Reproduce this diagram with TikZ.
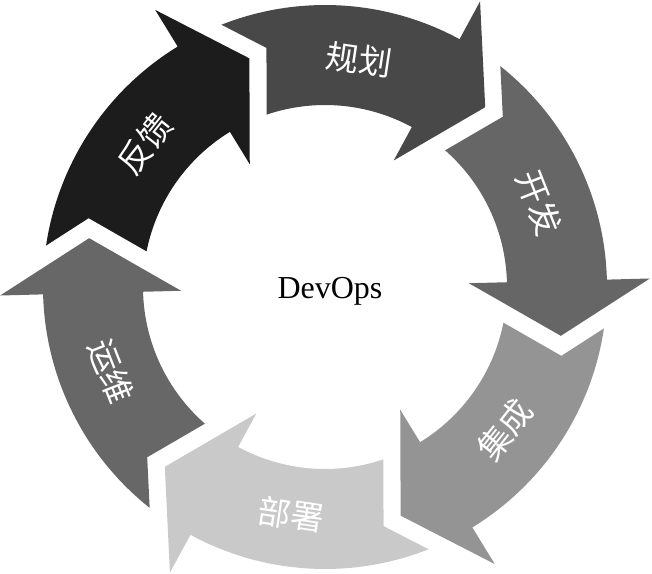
\documentclass[tikz,border=0pt]{standalone}
\usepackage{fontspec}
\setmainfont{Liberation Serif}
\newfontfamily\cjk{Noto Sans CJK SC}
\usetikzlibrary{positioning}
\definecolor{feedgray}{HTML}{1C1C1C}
\definecolor{plangray}{HTML}{484848}
\definecolor{devgray}{HTML}{666666}
\definecolor{cigray}{HTML}{949494}
\definecolor{deploygray}{HTML}{C9C9C9}
\definecolor{opsgray}{HTML}{676767}
\tikzset{
    stage/.style ={
        draw=none
    },
    stagetext/.style ={
        text=white,
        inner sep=0pt,
        font=\cjk\fontsize{33}{33}\selectfont
    },
    hub/.style ={
        anchor=base,
        font=\fontsize{32}{32}\selectfont
    }
}

\begin{document}
\begin{tikzpicture}[x=1pt,y=1pt]
    \useasboundingbox (-325,-286) rectangle (327,287);
    % one block arrow per stage, head at angle \h, tail notched by the previous head
    \foreach \h/\c/\t/\r/\n in {121.5/feedgray/反馈/51.5/feedback,
                                 61.5/plangray/规划/-8.5/plan,
                                 1.5/devgray/开发/-68.5/dev,
                                 -58.5/cigray/集成/51.5/ci,
                                 -118.5/deploygray/部署/-8.5/deploy,
                                 181.5/opsgray/运维/291.5/ops}{
        \begin{scope}[rotate=\h]
            \fill[stage, \c] (50.05:282) arc[start angle=50.05, end angle=0, radius=282]
                -- (0:325) -- (-13.2:240.86) -- (0:144) -- (0:182)
                arc[start angle=0, end angle=47.19, radius=182]
                -- (42.26:246.2) -- cycle;
        \end{scope}
        \node[stagetext, rotate=\r] (\n) at (\h+20:230) {\t};
    }
    \node[hub] (devops) at (5,-11) {DevOps};
\end{tikzpicture}
\end{document}
